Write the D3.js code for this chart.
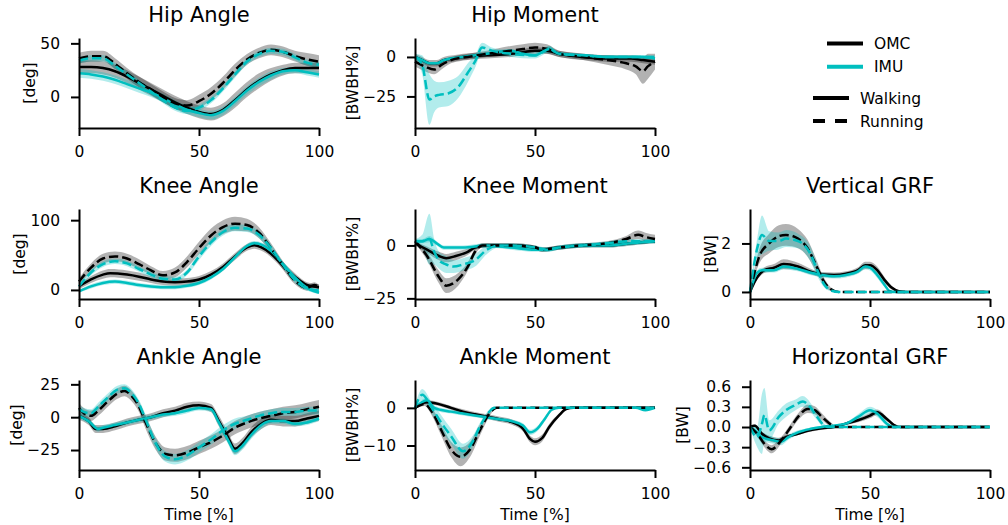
<!DOCTYPE html>
<html>
<head>
<meta charset="utf-8">
<script src="https://cdn.jsdelivr.net/npm/d3@7"></script>
<style>
  body { margin: 0; background: #fff; }
  svg { font-family: "DejaVu Sans", sans-serif; }
</style>
</head>
<body>
<svg id="chart" width="1008" height="525"></svg>
<script>
// every series is [time %, mean, sd]
const hipAngle = {
  omcWalk: [[0,28,6],[5,28,6],[10,27,6],[15,24,6],[20,19,6],[25,13,6],[30,7,6],[35,1,6],[40,-5,6],[45,-10,6],[50,-14,6],[55,-16,6],[60,-12,6],[65,-3,7],[70,7,7],[75,15,7],[80,21,6],[85,25,5],[90,27,5],[95,27,5],[100,27,5]],
  omcRun: [[0,36,5],[5,38,5],[10,38,5],[15,31,5],[20,22,5],[25,14,5],[30,7,5],[35,0,5],[40,-6,5],[45,-8,5],[50,-4,6],[55,3,6],[60,13,6],[65,25,6],[70,35,5],[75,41,5],[80,44,5],[85,42,5],[90,38,5],[95,35,6],[100,33,6]],
  imuWalk: [[0,22,4],[5,21,4],[10,19,4],[15,16,4],[20,12,4],[25,8,4],[30,4,4],[35,-1,4],[40,-7,4],[45,-12,4],[50,-15,4],[55,-17,4],[60,-13,4],[65,-4,4],[70,6,4],[75,14,4],[80,20,4],[85,24,3],[90,25,3],[95,23,3],[100,21,3]],
  imuRun: [[0,34,3],[5,36,3],[10,36,3],[15,29,3],[20,21,3],[25,13,3],[30,5,3],[35,-3,3],[40,-10,3],[45,-13,3],[50,-10,3],[55,-3,3],[60,8,3],[65,21,3],[70,33,3],[75,40,3],[80,43,3],[85,42,3],[90,37,3],[95,32,3],[100,30,3]]
};
const hipMoment = {
  omcWalk: [[0,0,2],[3,-2,2],[6,-4,2],[9,-4,2],[12,-2,2],[16,-1,2],[20,0,2],[30,1,2],[40,2,2],[45,3,2],[50,4,2],[55,4,2],[60,2,2],[70,0,2],[80,-1,2],[90,-1,2],[95,-2,2],[100,-3,2]],
  omcRun: [[0,-3,3],[4,-6,3],[8,-8,3],[11,-5,3],[15,-2,2],[22,0,2],[30,2,2],[40,4,3],[45,5,3],[50,6,3],[55,5,3],[60,2,2],[65,1,2],[70,0,2],[80,-2,3],[88,-4,4],[92,-6,5],[95,-9,8],[97,-6,8],[100,-3,5]],
  imuWalk: [[0,0,1],[3,-2,1],[6,-4,1],[9,-4,1],[12,-2,1],[20,0,1],[30,2,1],[40,4,1],[45,2,1],[50,1,1],[53,3,1],[56,5,2],[60,2,1],[70,1,1],[80,0,1],[90,0,1],[95,0,1],[100,-1,1]],
  imuRun: [[0,0,2],[3,-5,6],[6,-27,16],[8,-25,10],[10,-24,8],[14,-23,8],[18,-19,7],[22,-10,6],[25,-3,4],[28,6,3],[32,4,2],[40,2,2],[50,1,2],[56,5,2],[60,2,1],[70,1,1],[80,0,1],[90,0,1],[100,0,1]]
};
const kneeAngle = {
  omcWalk: [[0,5,4],[5,15,5],[10,22,6],[13,24,6],[20,22,6],[25,19,6],[30,15,5],[35,12,5],[40,11,5],[45,12,5],[50,15,5],[55,22,5],[60,33,5],[65,48,5],[70,61,5],[73,64,5],[76,61,5],[80,52,5],[85,35,5],[90,19,5],[95,7,4],[100,4,4]],
  omcRun: [[0,12,5],[5,32,6],[10,45,7],[15,48,7],[20,45,7],[25,37,7],[30,28,6],[35,21,6],[40,25,7],[45,40,8],[50,60,9],[55,78,10],[60,90,10],[65,95,10],[70,93,9],[75,82,8],[80,60,7],[85,35,6],[90,13,5],[95,3,4],[98,7,4],[100,4,3]],
  imuWalk: [[0,-2,2],[5,5,3],[10,10,3],[15,12,3],[20,10,3],[25,7,3],[30,5,3],[35,4,3],[40,4,3],[45,6,3],[50,10,3],[55,18,3],[60,30,3],[65,47,3],[70,63,3],[73,67,3],[76,65,3],[80,56,3],[85,37,3],[90,18,3],[95,3,3],[100,-4,2]],
  imuRun: [[0,5,3],[5,25,4],[10,37,4],[15,41,4],[20,38,4],[25,30,4],[30,22,4],[35,16,4],[40,15,4],[45,25,4],[50,48,5],[55,68,5],[60,83,5],[65,89,5],[70,88,5],[75,79,5],[80,60,5],[85,36,4],[90,14,4],[95,2,3],[100,-1,3]]
};
const kneeMoment = {
  omcWalk: [[0,1,1],[5,-2,1.5],[10,-5,2],[13,-6,2],[17,-5,2],[22,-3,1.5],[25,-1,1],[30,0,1],[40,0,1],[50,-1,1],[53,-2,1],[60,-1,1],[70,0,1],[80,0,1],[90,1,1],[100,2,1]],
  omcRun: [[0,2,1],[5,-5,2],[10,-15,3],[13,-19,3.5],[18,-16,3],[22,-10,2],[25,-3,1.5],[28,0,1],[35,0,1],[40,0,1],[50,-1,1],[53,-2,1],[60,-1,1],[70,0,1],[80,1,1],[88,3,1.5],[93,5,2],[96,4,2],[100,3,2]],
  imuWalk: [[0,2,1],[3,2,1],[6,3,1.5],[9,1,1],[12,-1,1],[20,-1,1],[30,0,1],[40,-1,1],[50,-2,1],[55,-2,1],[60,-1,1],[70,0,1],[80,0,1],[90,1,1],[100,2,1]],
  imuRun: [[0,2,1],[3,2,3],[6,3,12],[8,-3,6],[10,-7,4],[13,-9,4],[16,-10,3],[20,-9,3],[25,-7,3],[30,-2,2],[35,0,1],[40,0,1],[50,-1,1],[55,-2,1],[60,-1,1],[70,0,1],[80,1,1],[90,2,1],[100,2,1]]
};
const verticalGrf = {
  omcWalk: [[0,0,0],[3,0.6,0.1],[6,0.9,0.12],[10,1.0,0.15],[14,1.15,0.2],[20,1.05,0.15],[25,0.85,0.12],[30,0.72,0.1],[35,0.7,0.1],[40,0.75,0.1],[45,0.9,0.12],[48,1.1,0.15],[50,1.1,0.15],[53,0.9,0.15],[56,0.5,0.12],[59,0.18,0.08],[62,0.03,0.03],[65,0,0],[100,0,0]],
  omcRun: [[0,0,0],[4,1.5,0.3],[8,2.0,0.4],[12,2.3,0.45],[15,2.35,0.45],[20,2.2,0.4],[24,1.8,0.35],[28,1.0,0.25],[31,0.4,0.15],[34,0.1,0.05],[37,0,0],[100,0,0]],
  imuWalk: [[0,0,0],[3,0.8,0.1],[5,0.9,0.1],[10,0.9,0.1],[14,1.05,0.12],[20,0.95,0.1],[25,0.8,0.1],[30,0.7,0.1],[35,0.65,0.1],[40,0.7,0.1],[45,0.85,0.1],[48,1.05,0.12],[50,1.0,0.12],[53,0.7,0.12],[56,0.3,0.1],[58,0.05,0.03],[60,0,0],[100,0,0]],
  imuRun: [[0,0,0],[3,1.8,0.4],[5,2.35,0.8],[8,2.1,0.4],[12,2.1,0.35],[15,2.2,0.35],[20,2.1,0.3],[25,1.6,0.3],[28,0.9,0.25],[31,0.3,0.12],[34,0.05,0.03],[37,0,0],[100,0,0]]
};
const ankleAngle = {
  omcWalk: [[0,1,3],[4,-3,3],[7,-9,3],[10,-9,3],[15,-7,3],[20,-4,3],[25,-2,3],[30,0,3],[35,3,3],[40,5,3],[45,8,3],[50,9,3],[55,7,3],[58,-2,4],[62,-15,4],[65,-24,4],[68,-20,4],[72,-11,4],[76,-5,4],[80,-2,4],[85,-3,4],[90,-3,4],[95,-1,4],[100,1,4]],
  omcRun: [[0,7,4],[2,3,4],[5,1,4],[8,5,4],[12,12,4],[16,18,4],[19,20,4],[22,16,4],[25,8,4],[28,-5,5],[32,-20,5],[36,-28,5],[40,-29,5],[45,-27,5],[50,-23,5],[55,-19,5],[60,-14,5],[65,-8,5],[70,-4,5],[75,-1,5],[80,1,5],[85,3,5],[90,4,5],[95,6,5],[100,8,5]],
  imuWalk: [[0,1,2],[4,-3,2],[8,-9,2],[10,-8,2],[15,-6,2],[20,-4,2],[25,-2,2],[30,0,2],[35,2,2],[40,3,2],[45,5,2],[50,7,2],[55,6,2],[58,-3,3],[62,-17,3],[65,-26,3],[68,-22,3],[72,-13,3],[76,-6,3],[80,-3,2],[85,-3,2],[90,-5,2],[95,-4,2],[100,-1,2]],
  imuRun: [[0,6,3],[2,4,3],[5,3,3],[8,8,3],[12,15,3],[16,21,3],[19,22,3],[22,18,3],[25,10,3],[28,-3,4],[32,-20,4],[36,-30,4],[40,-32,4],[45,-29,4],[50,-23,4],[55,-17,4],[60,-10,4],[65,-5,4],[70,-2,3],[75,1,3],[80,3,3],[85,4,3],[90,4,3],[95,5,3],[100,5,3]]
};
const ankleMoment = {
  omcWalk: [[0,0,0.3],[5,1.5,0.5],[10,1,0.5],[15,0,0.5],[20,-1,0.6],[25,-1.7,0.6],[30,-2.3,0.6],[35,-3,0.7],[40,-3.7,0.7],[45,-5.5,0.8],[48,-8.3,0.9],[50,-9,0.9],[53,-8,0.9],[56,-5,0.8],[60,-2,0.5],[63,-0.3,0.2],[66,0,0.1],[100,0,0.1]],
  omcRun: [[0,0,0.3],[4,1,0.5],[7,-1,1],[11,-6,1.5],[15,-11,2],[19,-13,2.5],[23,-11,2],[27,-6,1.5],[31,-1.5,0.8],[34,0,0.2],[100,0,0.1]],
  imuWalk: [[0,0,0.3],[5,2,0.7],[8,0,0.6],[15,-1,0.5],[20,-1.5,0.5],[25,-2,0.5],[30,-2.5,0.5],[35,-3,0.5],[40,-3.5,0.5],[45,-4.7,0.6],[48,-6.5,0.7],[51,-5.5,0.7],[54,-3,0.6],[57,-0.5,0.3],[60,0,0.1],[92,0,0.1],[96,-0.6,0.2],[100,0,0.1]],
  imuRun: [[0,0,0.5],[3,3.5,1.5],[7,0,1.5],[11,-4,2],[15,-7.5,2],[20,-11.5,2],[24,-9,1.5],[27,-5,1],[31,-1,0.5],[33,0,0.2],[100,0,0.1]]
};
const horizontalGrf = {
  omcWalk: [[0,0,0.01],[2,0.02,0.02],[5,-0.1,0.03],[8,-0.17,0.04],[12,-0.2,0.04],[15,-0.15,0.03],[20,-0.1,0.02],[25,-0.05,0.02],[30,-0.02,0.02],[35,0,0.02],[40,0.05,0.02],[45,0.1,0.03],[50,0.17,0.04],[53,0.22,0.04],[57,0.12,0.03],[60,0.03,0.02],[63,0,0.01],[100,0,0.01]],
  omcRun: [[0,0,0.02],[3,-0.1,0.04],[6,-0.25,0.05],[9,-0.33,0.06],[13,-0.2,0.05],[17,0,0.05],[20,0.15,0.05],[24,0.27,0.06],[27,0.25,0.06],[30,0.15,0.05],[34,0.03,0.03],[36,0,0.01],[100,0,0.01]],
  imuWalk: [[0,0,0.02],[2,-0.05,0.05],[5,-0.15,0.06],[10,-0.2,0.05],[13,-0.22,0.05],[16,-0.15,0.04],[20,-0.08,0.03],[25,-0.03,0.02],[30,0,0.02],[35,0.02,0.02],[40,0.05,0.02],[45,0.15,0.04],[50,0.25,0.05],[53,0.2,0.05],[57,0.05,0.03],[60,0,0.01],[100,0,0.01]],
  imuRun: [[0,0,0.02],[3,-0.15,0.15],[5,0.05,0.45],[6,0.18,0.4],[8,-0.05,0.15],[12,0.15,0.1],[15,0.25,0.1],[19,0.33,0.08],[22,0.38,0.08],[25,0.3,0.07],[28,0.15,0.05],[31,0.02,0.03],[33,0,0.01],[100,0,0.01]]
};

const titles = ['Hip Angle', 'Hip Moment', 'Knee Angle', 'Knee Moment', 'Vertical GRF', 'Ankle Angle', 'Ankle Moment', 'Horizontal GRF'];
const units = ['[deg]', '[BWBH%]', '[deg]', '[BWBH%]', '[BW]', '[deg]', '[BWBH%]', '[BW]'];
const yTicks = [[0, 50], [-25, 0], [0, 100], [-25, 0], [0, 2], [-25, 0, 25], [-10, 0], [-0.6, -0.3, 0, 0.3, 0.6]];
const xTicks = [0, 50, 100];
const legendSources = ['OMC', 'IMU'];
const legendTasks = ['Walking', 'Running'];

const OMC = '#000000', IMU = '#00bfbf';

// panel layout (grid cell, y extent)
const panels = [
  { data: hipAngle, cell: [0, 0], ydom: [-29, 55] },
  { data: hipMoment, cell: [0, 1], ydom: [-45, 12] },
  { data: kneeAngle, cell: [1, 0], ydom: [-13, 116] },
  { data: kneeMoment, cell: [1, 1], ydom: [-25.3, 17.2] },
  { data: verticalGrf, cell: [1, 2], ydom: [-0.29, 3.42] },
  { data: ankleAngle, cell: [2, 0], ydom: [-40.2, 28.3] },
  { data: ankleMoment, cell: [2, 1], ydom: [-16.5, 7.4] },
  { data: horizontalGrf, cell: [2, 2], ydom: [-0.64, 0.7] }
];

const colX = [79, 415, 750], axW = 240;
const rowY = [38, 209, 380], axH = 90;

const svg = d3.select('#chart');

panels.forEach((p, i) => {
  const [r, c] = p.cell;
  const g = svg.append('g').attr('transform', `translate(${colX[c]},${rowY[r]})`);
  const x = d3.scaleLinear().domain([0, 100]).range([0, axW]);
  const y = d3.scaleLinear().domain(p.ydom).range([axH, 0]);

  const area = d3.area().curve(d3.curveMonotoneX)
    .x(d => x(d[0])).y0(d => y(d[1] - d[2])).y1(d => y(d[1] + d[2]));
  const line = d3.line().curve(d3.curveMonotoneX)
    .x(d => x(d[0])).y(d => y(d[1]));

  const series = [
    { key: 'omcWalk', color: OMC, dash: null },
    { key: 'imuWalk', color: IMU, dash: null },
    { key: 'omcRun', color: OMC, dash: '9.25,4' },
    { key: 'imuRun', color: IMU, dash: '9.25,4' }
  ];

  series.forEach(s => {
    g.append('path').datum(p.data[s.key])
      .attr('d', area)
      .attr('fill', s.color)
      .attr('fill-opacity', 0.3)
      .attr('stroke', 'none');
  });
  series.forEach(s => {
    g.append('path').datum(p.data[s.key])
      .attr('d', line)
      .attr('fill', 'none')
      .attr('stroke', s.color)
      .attr('stroke-width', 2.5)
      .attr('stroke-dasharray', s.dash);
  });

  const fmt = i === 7 ? d3.format('.1f') : d3.format('d');
  const ya = g.append('g')
    .call(d3.axisLeft(y).tickValues(yTicks[i]).tickFormat(fmt).tickSize(8).tickSizeOuter(0).tickPadding(11));
  const xa = g.append('g').attr('transform', `translate(0,${axH})`)
    .call(d3.axisBottom(x).tickValues(xTicks).tickSize(8).tickSizeOuter(0).tickPadding(10));

  [ya, xa].forEach(a => {
    a.selectAll('path, line').attr('stroke', '#000').attr('stroke-width', 2);
    a.selectAll('text').attr('fill', '#000').style('font-size', '15.5px')
      .style('font-family', '"DejaVu Sans", sans-serif');
  });

  // y label sits left of the widest tick label
  const tickLeft = d3.min(ya.selectAll('text').nodes(), n => n.getBBox().x);
  g.append('text')
    .attr('transform', `translate(${tickLeft - 5},${axH / 2}) rotate(-90)`)
    .attr('text-anchor', 'middle')
    .style('font-size', '15.5px')
    .text(units[i]);

  g.append('text')
    .attr('x', axW / 2).attr('y', -16)
    .attr('text-anchor', 'middle')
    .style('font-size', '21px')
    .text(titles[i]);

  if (r === 2) {
    g.append('text')
      .attr('x', axW / 2).attr('y', axH + 50)
      .attr('text-anchor', 'middle')
      .style('font-size', '15.5px')
      .text('Time [%]');
  }
});

// legend
const leg = svg.append('g');
legendSources.forEach((name, k) => {
  const yy = 43.5 + k * 23.3;
  leg.append('line').attr('x1', 827).attr('x2', 863).attr('y1', yy).attr('y2', yy)
    .attr('stroke', k === 0 ? OMC : IMU).attr('stroke-width', 4);
  leg.append('text').attr('x', 874).attr('y', yy).attr('dy', '0.36em')
    .style('font-size', '15.5px').text(name);
});
legendTasks.forEach((name, k) => {
  const yy = 98 + k * 23;
  leg.append('line').attr('x1', 813).attr('x2', 849).attr('y1', yy).attr('y2', yy)
    .attr('stroke', '#000').attr('stroke-width', 4)
    .attr('stroke-dasharray', k === 0 ? null : '12,10');
  leg.append('text').attr('x', 860).attr('y', yy).attr('dy', '0.36em')
    .style('font-size', '15.5px').text(name);
});
</script>
</body>
</html>
